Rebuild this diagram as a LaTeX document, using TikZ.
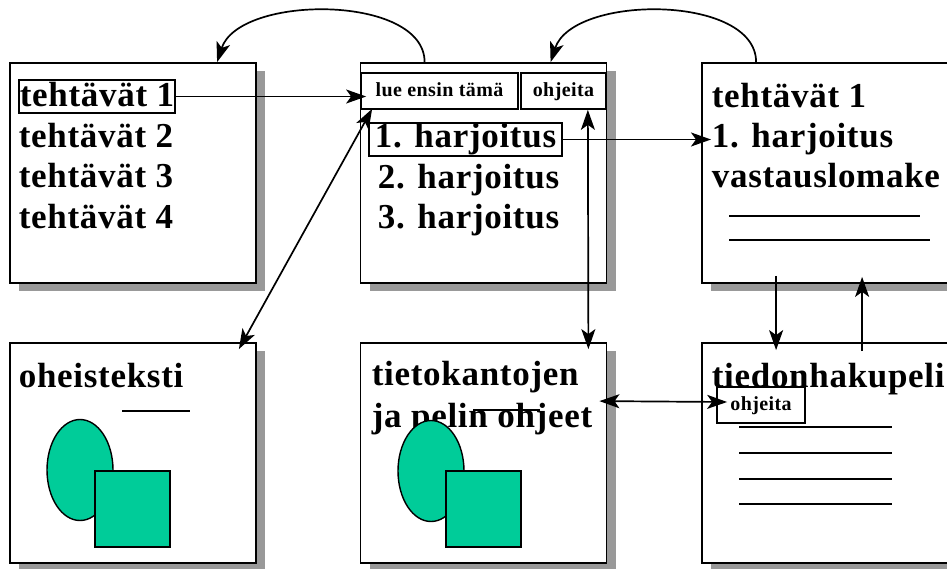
\documentclass[tikz,border=0pt]{standalone}
\usepackage{fontspec}
\setmainfont{Liberation Serif}
\newfontfamily\bigfont{Liberation Serif}[LetterSpace=2]
\newfontfamily\smallfont{Liberation Serif}[LetterSpace=2]
\usetikzlibrary{arrows.meta,shapes.geometric,shadows}
\definecolor{blobgreen}{HTML}{00CC99}

\begin{document}
\begin{tikzpicture}[x=1pt, y=-1pt,
                    line width=1.7pt,
                    >={Stealth[length=20pt, width=14pt, inset=5pt]},
                    panel/.style={draw, fill=white, inner sep=0, line width=1.8pt, minimum width=246pt, minimum height=220pt,
                                  drop shadow={shadow xshift=9pt, shadow yshift=-8pt, fill=black!40, opacity=1}},
                    txt/.style={anchor=base west, inner sep=0, font=\bigfont\bfseries\fontsize{35}{42}\selectfont},
                    smalltxt/.style={font=\smallfont\bfseries\fontsize{20}{24}\selectfont},
                    cell/.style={draw, smalltxt, inner sep=0, text height=13pt, text depth=2pt, minimum height=36pt},
                    blob/.style={draw, fill=blobgreen, inner sep=0, line width=1.4pt}]
                \useasboundingbox (0,0) rectangle (947,568);
                \clip (0,0) rectangle (947,568);

                \node (A) [panel] at (133,173) {};
                \node (B) [panel] at (483.5,173) {};
                \node (C) [panel] at (825,173) {};
                \node (D) [panel] at (133,453) {};
                \node (E) [panel] at (483.5,453) {};
                \node (F) [panel] at (825,453) {};

                % tehtavat
                \node (a1) [txt, draw, inner xsep=1pt, inner ysep=3pt, text height=23pt, text depth=4pt] at (18,106) {tehtävät 1};
                \node (a2) [txt] at (18,147) {tehtävät 2};
                \node (a3) [txt] at (18,187) {tehtävät 3};
                \node (a4) [txt] at (18,228) {tehtävät 4};

                % harjoitukset
                \node (lue) [cell, minimum width=157pt] at (439.5,91) {lue ensin tämä};
                \node (ohj) [cell, minimum width=85pt] at (563.5,91) {ohjeita};
                \node (h1) [txt, draw, inner xsep=6pt, inner ysep=2pt, text height=22pt, text depth=7pt] at (368,147) {1. harjoitus};
                \node (h2) [txt] at (377,188) {2. harjoitus};
                \node (h3) [txt] at (377,228) {3. harjoitus};

                % vastauslomake
                \node (c1) [txt] at (711,107) {tehtävät 1};
                \node (c2) [txt] at (711,147) {1. harjoitus};
                \node (c3) [txt] at (711,187) {vastauslomake};
                \draw (729,216) -- (920,216);
                \draw (729,240) -- (930,240);

                % oheisteksti
                \node (d1) [txt] at (18,387) {oheisteksti};
                \draw (122,411) -- (190,411);
                \node (d2) [blob, ellipse, minimum width=66pt, minimum height=101pt] at (80,470) {};
                \node (d3) [blob, minimum width=75pt, minimum height=76pt] at (132.5,509) {};

                % ohjeet
                \node (e1) [txt] at (371,385) {tietokantojen};
                \node (e2) [txt] at (371,427) {ja pelin ohjeet};
                \draw (473,410) -- (540,410);
                \node (e3) [blob, ellipse, minimum width=66pt, minimum height=101pt] at (431,471) {};
                \node (e4) [blob, minimum width=75pt, minimum height=76pt] at (483.5,509) {};

                % peli
                \node (f1) [txt] at (711,387) {tiedonhakupeli};
                \node (fo) [cell, minimum width=88pt] at (761,405) {ohjeita};
                \foreach \y in {427,453,479,504}
                    \draw (739,\y) -- (892,\y);

                \draw [->] (a1.east) -- ([xshift=6pt]a1.east -| lue.west);
                \draw [->] ([xshift=65pt]B.north west) .. controls +(0,-68) and +(22,-68) .. ([xshift=208pt]A.north west);
                \draw [->] ([xshift=55pt]C.north west) .. controls +(0,-68) and +(22,-68) .. ([xshift=191pt]B.north west);
                \draw [->] (h1.east) -- (h1.east -| c2.west);
                \draw [<->] ([shift={(-18,7)}]D.north east) -- ([shift={(12,-1)}]lue.south west);
                \draw [<->] ([shift={(-19,0)}]ohj.south east) -- ([shift={(-19,7)}]E.north east);
                \draw [<->] ([shift={(-8,59)}]E.north east) -- ([shift={(11,-3)}]fo.west);
                \draw [->] ([shift={(75,-8)}]C.south west) -- ([shift={(75,8)}]F.north west);
                \draw [->] ([shift={(161,9)}]F.north west) -- ([shift={(161,-7)}]C.south west);
            \end{tikzpicture}
\end{document}
